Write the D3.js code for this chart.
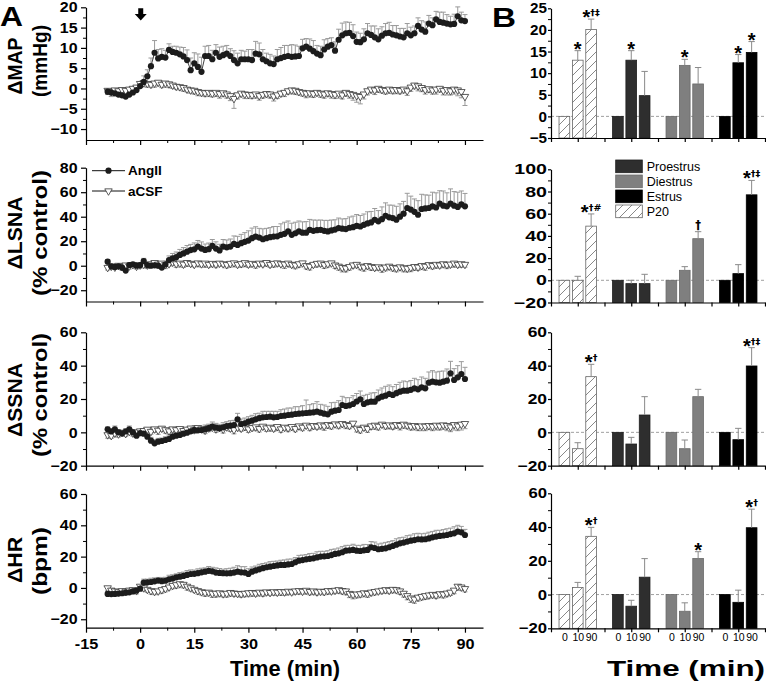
<!DOCTYPE html>
<html><head><meta charset="utf-8">
<script src="https://cdn.jsdelivr.net/npm/d3@7"></script>
<style>body{margin:0;background:#fff}svg{display:block}</style>
</head><body><svg id="c" width="766" height="682"></svg>
<script>
// ---------- DATA (panel A: time course, t = -9 .. 90 min) ----------
const minutes = d3.range(-9, 91);

const mapAng = [-0.8,-1.0,-1.2,-1.5,-1.7,-2.0,-1.5,-1.0,-0.4,0.6,
 1.6,3.0,5.5,8.8,7.4,7.8,7.6,9.5,9.0,8.8,
 8.4,7.9,7.0,4.5,6.2,5.3,4.1,8.0,8.0,7.2,
 8.8,7.8,8.2,8.6,8.0,7.0,6.2,7.2,7.2,7.2,
 7.0,8.6,8.4,7.2,6.7,6.2,6.0,7.2,7.5,7.8,
 8.0,7.8,7.9,8.0,9.9,10.3,9.8,9.2,8.6,8.2,
 9.6,10.3,10.7,9.3,12.0,13.1,13.6,13.7,12.9,11.5,
 11.4,12.1,13.6,13.2,12.6,12.1,13.0,13.6,13.7,13.3,
 13.1,12.8,12.6,13.6,13.1,13.6,15.4,14.5,14.0,16.0,
 15.6,17.0,16.4,16.2,16.0,15.8,15.9,17.8,16.8,16.6];
const mapAngErr = [0.8,0.9,0.7,1.0,0.8,0.9,0.7,0.8,0.9,1.0,
 1.5,1.6,2.0,3.0,2.2,2.0,1.8,1.5,1.4,1.6,
 1.8,2.2,2.5,3.0,2.6,3.2,3.6,2.4,2.6,2.2,
 2.0,2.4,2.2,2.0,1.8,2.3,2.5,2.2,2.0,2.4,
 2.6,3.0,2.8,2.4,2.0,2.2,2.0,2.4,2.6,2.8,
 2.6,3.0,2.8,2.4,2.2,2.0,2.4,2.6,2.0,2.2,
 2.4,2.0,1.8,2.2,2.6,3.0,2.8,2.6,2.8,2.4,
 2.2,2.6,2.4,2.2,2.8,2.6,2.2,2.4,2.6,2.2,
 2.4,2.0,2.2,2.4,2.0,1.8,2.0,2.2,2.4,2.0,
 1.8,2.0,2.4,2.6,2.2,2.0,2.4,2.3,2.0,1.6];
const mapCsf = [-0.5,-0.8,-0.4,-0.6,-0.3,-0.5,-0.2,0.0,0.3,1.2,
 1.4,1.2,1.0,1.3,1.5,1.0,1.3,1.1,0.8,0.5,
 0.4,0.2,-0.2,-0.4,-0.5,-0.8,-1.0,-1.1,-1.0,-1.2,
 -1.0,-1.3,-1.1,-1.4,-1.8,-2.5,-1.6,-1.2,-1.4,-1.5,
 -1.6,-1.4,-1.8,-1.5,-1.3,-1.4,-1.9,-1.6,-1.2,-1.0,
 -0.6,-0.4,-0.5,-0.8,-1.0,-1.2,-1.1,-1.3,-1.0,-1.2,
 -1.4,-1.1,-1.3,-1.5,-1.2,-1.6,-1.0,-1.3,-1.5,-1.8,
 -2.0,-1.4,-0.6,-0.2,-0.4,0.0,-0.3,-0.5,-0.2,-0.4,
 -0.3,-0.5,-0.2,-0.6,0.3,0.8,0.6,0.2,-0.3,-0.1,
 -0.4,-0.2,0.0,-0.5,-0.3,-0.6,-0.2,-0.4,-0.8,-2.0];
const mapCsfErr = [1.0,1.2,0.9,1.1,0.8,1.0,0.7,0.8,0.9,0.8,
 1.0,0.9,0.8,1.0,0.9,0.8,1.0,0.9,0.8,0.7,
 0.8,0.9,0.7,0.8,0.9,1.0,0.8,0.9,1.0,0.9,
 1.0,1.1,0.9,1.0,1.2,2.4,1.0,0.9,1.1,1.0,
 0.9,1.0,1.1,0.9,0.8,1.0,1.2,0.9,0.8,1.0,
 0.8,0.9,1.0,0.8,0.9,1.1,1.0,0.9,0.8,1.0,
 1.0,0.9,1.1,1.0,1.2,1.0,0.9,1.1,1.4,1.6,
 1.8,1.2,1.0,0.9,1.1,1.0,0.8,0.9,1.0,0.9,
 1.0,0.8,0.9,1.1,1.0,0.9,1.2,1.0,1.1,0.9,
 1.0,1.2,0.9,1.1,1.3,1.0,1.2,1.4,1.5,2.2];

const lsnaAng = [3.3,-0.5,-1.0,-0.5,-1.5,-4.0,0.5,1.2,0.0,0.5,
 3.8,0.5,0.0,0.3,0.0,-1.5,1.0,4.5,6.0,7.0,
 8.8,10.0,11.5,12.8,13.4,15.6,14.0,12.9,13.5,16.2,
 14.0,12.5,15.6,15.0,15.6,17.8,17.0,18.4,19.5,20.5,
 22.5,23.8,23.0,21.6,22.5,23.3,23.8,24.0,25.2,26.0,
 28.0,25.2,26.5,28.0,27.0,27.0,29.3,28.5,29.0,29.3,
 28.5,28.0,28.8,29.5,30.7,30.2,29.9,31.0,31.5,32.6,
 32.0,33.4,34.5,35.3,37.5,36.2,38.0,40.8,39.5,38.9,
 37.5,40.0,42.5,47.1,45.8,44.0,41.6,46.3,46.8,47.1,
 48.5,47.5,50.7,49.0,48.5,50.7,49.0,48.0,50.0,48.5];
const lsnaAngErr = [1.5,2.0,1.8,2.2,1.6,2.0,1.8,1.5,2.0,1.8,
 2.2,2.0,2.5,2.4,2.8,3.0,2.6,3.5,4.0,4.2,
 4.5,4.8,5.0,4.6,5.2,5.0,5.4,4.8,5.0,5.2,
 5.5,5.0,5.8,6.0,6.2,6.5,7.0,7.2,7.5,8.0,
 8.2,8.0,7.5,8.5,8.0,7.8,8.2,8.0,9.0,9.5,
 8.5,9.5,9.0,8.5,8.8,9.0,8.5,8.8,8.2,8.0,
 8.5,9.0,8.5,8.0,8.2,8.0,8.5,8.8,9.0,9.2,
 9.0,8.8,9.5,9.0,9.2,8.8,10.0,10.5,10.0,10.5,
 11.0,10.5,10.0,12.0,11.0,10.5,11.5,12.0,11.0,10.5,
 11.5,12.0,10.5,12.0,11.0,12.0,11.5,12.0,11.0,10.5];
const lsnaCsf = [-1.5,-0.5,-1.2,0.2,-0.8,0.5,-0.3,0.8,-0.5,0.5,
 1.0,0.5,1.5,2.5,1.2,2.0,0.8,1.5,2.8,1.5,
 2.0,1.2,2.5,1.8,1.0,2.2,1.5,2.0,1.0,1.8,
 1.2,2.0,1.5,0.8,1.8,2.2,1.0,1.6,2.4,1.2,
 1.8,1.0,2.0,1.4,2.5,1.0,1.8,2.2,1.5,1.2,
 2.0,1.0,0.5,1.5,2.2,0.0,-0.5,1.0,1.8,2.0,
 0.8,1.5,2.2,0.5,-0.5,-1.5,-2.0,-0.8,0.5,1.0,
 -0.5,-1.2,0.0,-0.8,-1.5,-1.0,-2.0,-1.2,-0.5,-1.5,
 -2.0,-1.0,-1.8,-2.2,-1.5,-0.8,-1.2,0.0,-0.5,0.8,
 0.0,1.0,0.5,1.5,0.8,1.2,2.0,1.0,1.5,1.0];
const lsnaCsfErr = [2.0,2.5,1.8,2.2,3.0,2.0,2.4,1.8,2.2,2.6,
 2.0,2.8,2.4,3.0,2.2,2.6,3.2,2.0,2.4,2.8,
 2.2,2.6,3.0,2.4,2.0,2.8,2.6,3.2,2.4,2.2,
 2.8,2.4,2.0,2.6,3.0,2.4,2.2,2.8,3.2,2.6,
 2.4,3.0,2.6,2.2,2.8,2.4,3.0,2.6,2.2,3.4,
 2.6,2.4,3.0,2.8,2.2,2.6,3.0,2.4,2.8,2.6,
 3.0,2.6,2.2,2.8,3.2,3.6,3.0,2.8,2.4,2.6,
 2.8,3.2,2.6,3.0,2.4,2.8,3.4,3.0,2.6,2.8,
 3.0,2.6,3.2,2.8,3.4,3.0,2.6,2.8,3.2,2.4,
 2.6,3.0,2.4,2.8,3.2,2.6,3.0,2.4,2.8,2.2];

const ssnaAng = [1.8,0.5,1.8,0.0,-0.6,0.5,1.8,0.0,-2.0,-0.5,
 -0.8,-2.6,-5.0,-6.6,-5.6,-5.2,-4.6,-4.0,-2.6,-2.0,
 -1.6,-0.8,-0.2,0.6,1.4,1.2,1.4,1.8,2.5,3.4,
 2.8,2.4,3.0,3.8,4.0,4.4,7.8,5.0,5.4,6.4,
 7.0,7.8,8.5,9.0,9.2,9.4,9.0,9.2,9.8,10.0,
 10.4,10.6,11.0,11.2,11.4,11.6,11.8,12.0,12.4,11.8,
 11.2,10.8,12.4,13.0,13.4,16.4,15.8,16.2,17.0,18.5,
 19.8,17.0,18.0,18.4,18.4,20.4,21.4,22.0,23.0,22.4,
 23.5,24.4,25.0,25.0,25.5,26.4,25.8,27.0,26.4,29.8,
 30.4,30.0,29.8,30.4,31.0,35.4,31.4,33.0,35.0,32.0];
const ssnaAngErr = [1.5,1.8,2.0,1.6,1.4,1.8,2.0,1.6,1.5,1.8,
 1.6,1.8,2.0,2.2,2.0,1.8,2.0,1.8,2.2,2.0,
 2.2,2.0,2.4,2.2,2.6,2.4,2.2,2.6,2.4,2.8,
 2.6,2.4,2.8,2.6,3.0,2.8,3.6,3.0,3.2,3.0,
 3.2,3.4,3.0,3.6,3.4,3.2,3.6,3.4,3.8,4.0,
 4.2,4.0,4.4,4.2,4.6,7.8,4.8,5.2,6.0,5.0,
 5.2,4.8,5.4,5.0,5.6,5.2,5.0,4.6,5.0,4.8,
 5.0,5.2,4.8,5.2,5.4,5.0,5.2,5.6,5.4,5.0,
 5.2,5.6,5.8,5.4,5.6,6.0,5.8,6.2,6.0,6.4,
 6.6,6.2,6.8,6.4,7.0,7.2,6.8,7.0,7.4,7.0];
const ssnaCsf = [-1.5,-2.0,-0.5,-1.0,0.0,-0.8,0.5,-0.5,0.2,0.8,
 1.0,1.8,0.5,2.0,1.2,2.4,1.5,0.8,2.0,1.5,
 2.2,1.0,1.8,2.5,1.5,2.8,2.0,1.2,2.6,3.0,
 2.0,2.8,1.8,3.2,2.5,1.5,3.0,2.4,3.4,2.0,
 2.8,3.2,2.2,3.6,2.6,3.0,2.4,3.4,2.0,3.0,
 2.6,3.4,2.2,3.8,3.0,4.2,3.2,4.0,3.6,4.4,
 3.8,4.6,4.0,5.0,4.4,5.2,4.6,4.0,5.4,2.4,
 1.6,3.0,2.2,3.8,4.2,3.6,4.8,4.0,4.4,3.8,
 4.6,4.0,4.8,4.2,3.6,4.0,3.4,3.8,3.6,4.0,
 3.6,4.2,3.8,4.4,4.0,3.2,4.6,3.8,4.8,5.2];
const ssnaCsfErr = [2.0,1.6,2.2,1.8,2.4,1.6,2.0,1.8,2.2,1.6,
 1.8,2.2,1.6,2.0,2.4,1.8,2.0,2.2,1.6,2.0,
 2.2,1.8,2.0,1.6,2.2,2.4,1.8,2.0,2.2,1.8,
 2.0,1.6,2.2,1.8,2.0,2.4,2.0,1.8,2.2,2.0,
 1.8,2.2,2.0,1.6,2.0,2.2,1.8,2.4,2.0,1.8,
 2.2,2.0,1.8,2.2,2.0,1.6,2.2,2.0,1.8,2.4,
 2.6,2.2,2.0,1.8,2.2,2.0,2.4,1.8,2.0,2.2,
 2.0,1.8,2.2,2.0,2.4,2.2,1.8,2.0,2.2,2.0,
 2.2,2.6,2.4,2.0,2.2,2.6,2.4,2.8,2.6,2.4,
 2.6,2.8,2.4,2.6,3.0,2.8,3.2,2.8,3.4,3.0];

const hrAng = [-3.8,-3.9,-3.8,-3.6,-3.4,-3.0,-2.8,-2.2,-1.7,-0.5,
 3.4,3.6,3.8,4.2,4.7,4.3,4.6,5.5,6.0,6.8,
 7.2,7.7,8.3,8.9,9.0,9.4,10.0,10.4,10.9,10.6,
 9.8,9.6,9.4,9.3,9.4,9.8,10.4,10.0,9.8,8.9,
 10.4,11.2,11.9,12.6,13.2,13.6,14.0,14.4,14.7,14.7,
 15.0,15.3,16.4,17.4,17.8,18.3,18.6,18.9,19.5,20.0,
 20.2,20.4,21.0,21.7,22.1,22.8,23.8,24.0,24.3,23.8,
 23.6,24.0,24.3,26.0,25.5,24.7,25.0,25.3,26.0,26.8,
 27.6,28.5,29.0,29.6,30.2,30.6,31.1,31.0,31.1,31.6,
 32.3,32.8,33.2,33.5,33.8,34.4,34.9,36.0,35.5,33.8];
const hrAngErr = [1.5,1.8,1.6,2.0,1.8,1.6,2.0,1.8,1.6,2.0,
 2.2,2.0,2.4,2.2,2.0,2.4,2.2,2.6,2.4,2.2,
 2.6,2.4,2.8,2.6,2.4,2.8,2.6,2.4,2.8,2.6,
 3.0,2.8,2.6,3.0,3.2,3.4,3.8,3.6,3.8,3.4,
 3.0,2.8,3.2,3.0,2.8,3.2,3.0,2.8,3.0,3.2,
 3.4,3.2,3.0,3.4,3.2,3.0,3.4,3.2,3.6,3.4,
 3.2,3.4,3.6,3.2,3.4,3.6,3.4,3.2,3.6,3.4,
 3.6,3.8,3.4,3.6,3.8,3.4,3.6,3.8,3.6,3.4,
 3.8,3.6,3.4,3.8,3.6,4.0,3.8,3.6,3.8,4.0,
 3.8,4.0,3.6,3.8,4.0,3.8,4.2,4.0,3.8,3.6];
const hrCsf = [0.0,-1.5,-2.0,-2.5,-1.8,-2.2,-1.5,-1.2,-1.8,1.0,
 0.0,-1.0,-1.8,-2.3,-2.0,-1.2,-0.5,0.5,1.5,2.0,
 2.6,2.2,1.0,0.0,-1.0,-1.8,-2.5,-3.0,-2.8,-3.5,
 -3.5,-3.2,-3.8,-3.5,-3.0,-3.4,-3.6,-3.8,-3.5,-3.2,
 -3.0,-3.4,-2.8,-3.2,-2.6,-3.0,-2.5,-2.8,-2.4,-2.6,
 -2.2,-2.6,-2.0,-1.8,-2.2,-1.6,-2.4,-2.0,-2.6,-2.2,
 -2.4,-1.8,-2.0,-1.6,-1.2,-1.8,-2.0,-3.6,-4.2,-4.0,
 -3.8,-3.2,-3.6,-2.8,-2.4,-2.0,-1.6,-1.2,-1.6,-1.0,
 -1.2,-2.0,-3.5,-5.0,-6.5,-7.2,-6.0,-5.5,-5.0,-4.6,
 -4.2,-4.6,-3.8,-4.0,-3.4,-2.8,-1.5,1.0,0.5,-0.5];
const hrCsfErr = [1.8,2.0,1.6,2.2,1.8,2.0,1.6,1.8,2.0,1.8,
 2.0,1.8,2.2,2.0,1.8,2.2,2.0,1.8,2.0,2.2,
 2.0,2.2,2.4,2.0,1.8,2.2,2.0,2.4,2.2,2.6,
 2.4,2.2,2.0,2.4,2.2,2.0,1.8,2.2,2.0,2.4,
 2.2,2.0,1.8,2.2,2.0,1.8,2.2,2.0,2.4,2.2,
 2.0,1.8,2.2,2.0,1.8,2.2,2.0,2.2,2.0,1.8,
 2.0,2.2,1.8,2.0,2.2,2.0,2.4,2.6,2.8,2.4,
 2.2,2.0,2.4,2.2,2.0,1.8,2.0,2.2,2.0,1.8,
 2.0,2.2,2.4,2.6,2.8,2.6,2.4,2.2,2.4,2.2,
 2.0,2.2,2.0,2.4,2.2,2.0,2.2,2.4,2.2,2.0];

// tick labels
const timeTicks = [-15,0,15,30,45,60,75,90];
const timeMinor = [-7.5,7.5,22.5,37.5,52.5,67.5,82.5];
const mapTicks = [-10,-5,0,5,10,15,20];
const mapMinor = [-7.5,-2.5,2.5,7.5,12.5,17.5];
const lsnaTicks = [-20,0,20,40,60,80];
const lsnaMinor = [-10,10,30,50,70];
const ssnaTicks = [-20,0,20,40,60];
const ssnaMinor = [-10,10,30,50];
const hrTicks = [-20,0,20,40,60];
const hrMinor = [-10,10,30,50];
const seriesNames = ["AngII","aCSF"];

// ---------- DATA (panel B: bars at 0, 10, 90 min) ----------
const groups = ["P20","Proestrus","Diestrus","Estrus"];
const legendOrder = ["Proestrus","Diestrus","Estrus","P20"];
const barTimes = ["0","10","90"];
const barMAP = [[0,13.0,20.1],[0,13.0,4.8],[0,11.8,7.5],[0,12.4,14.8]];
const barMAPErr = [[0,2.2,2.4],[0,2.2,5.6],[0,1.4,3.8],[0,1.9,2.5]];
const barLSNA = [[0,0,48.8],[0,-3,-3],[0,9,37.5],[0,6,77]];
const barLSNAErr = [[0,3.6,11],[0,3,8.4],[0,3.3,6.3],[0,8.1,13]];
const barSSNA = [[0,-9.8,33.4],[0,-7,10.4],[0,-9.8,21.4],[0,-4.4,39.8]];
const barSSNAErr = [[0,3.6,7.4],[0,4,11],[0,5.2,4.4],[0,6.8,11]];
const barHR = [[0,4.2,34.5],[0,-6.9,10.3],[0,-9.9,21.4],[0,-4.6,39.6]];
const barHRErr = [[0,3,5.3],[0,3.5,11],[0,5,4],[0,7.2,11]];
const sigMAP = [["","*","*†‡"],["","*",""],["","*",""],["","*","*"]];
const sigLSNA = [["","","*†#"],["","",""],["","","†"],["","","*†‡"]];
const sigSSNA = [["","","*†"],["","",""],["","",""],["","","*†‡"]];
const sigHR = [["","","*†"],["","",""],["","","*"],["","","*†"]];
const mapBTicks = [-5,0,5,10,15,20,25];
const mapBMinor = [-2.5,2.5,7.5,12.5,17.5,22.5];
const lsnaBTicks = [-20,0,20,40,60,80,100];
const lsnaBMinor = [-10,10,30,50,70,90];

// ---------- DRAWING ----------
const FONT = '"Liberation Sans", Arial, Helvetica, sans-serif';
const SYMFONT = '"DejaVu Sans", "Liberation Sans", sans-serif';
const svg = d3.select("#c");
const defs = svg.append("defs");
const pat = defs.append("pattern").attr("id","hatch").attr("patternUnits","userSpaceOnUse")
  .attr("width",9).attr("height",9);
pat.append("rect").attr("width",9).attr("height",9).attr("fill","#fff");
pat.append("path").attr("d","M-2.25,2.25L2.25,-2.25M0,9L9,0M6.75,11.25L11.25,6.75")
  .attr("stroke","#6a6a6a").attr("stroke-width",0.8);

const fills = {P20:"url(#hatch)", Proestrus:"#2e2e2e", Diestrus:"#7f7f7f", Estrus:"#000"};
const strokes = {P20:"#666", Proestrus:"#1e1e1e", Diestrus:"#6a6a6a", Estrus:"#000"};

const xL = d3.scaleLinear().domain([-15,95]).range([86,483]);
const xB = d3.scaleLinear().domain([0.5,4.5]).range([551,765]);

function styleAxis(a, fs){
  a.attr("font-family",FONT).attr("font-size",fs).attr("font-weight","bold");
  a.selectAll("path,line").attr("stroke","#000").attr("stroke-width",1.2);
  a.selectAll("text").attr("fill","#000");
}
function yAxis(g, y, x0, ticks, minor, sx, gap, tsize){
  const a = g.append("g").attr("transform",`translate(${x0},0)`)
    .call(d3.axisLeft(y).tickValues(ticks).tickSize(tsize).tickSizeOuter(0).tickPadding(2));
  styleAxis(a, 14.5);
  a.selectAll(".tick text").attr("x",-gap/sx).attr("transform",`scale(${sx},1)`);
  const m = g.append("g").attr("transform",`translate(${x0},0)`)
    .call(d3.axisLeft(y).tickValues(minor).tickSize(3).tickSizeOuter(0).tickFormat(()=>""));
  m.select(".domain").remove();
  m.selectAll("line").attr("stroke","#000").attr("stroke-width",1);
}

const leftPanels = [
 {ang:mapAng, angErr:mapAngErr, csf:mapCsf, csfErr:mapCsfErr, domain:[-12.7,20], range:[140,7.3],
  ticks:mapTicks, minor:mapMinor, title:["ΔMAP","(mmHg)"], tl:[57,72], ty:[66,61]},
 {ang:lsnaAng, angErr:lsnaAngErr, csf:lsnaCsf, csfErr:lsnaCsfErr, domain:[-29.2,80], range:[301.5,167.7],
  ticks:lsnaTicks, minor:lsnaMinor, title:["ΔLSNA","(% control)"], tl:[73,126], ty:[233,233]},
 {ang:ssnaAng, angErr:ssnaAngErr, csf:ssnaCsf, csfErr:ssnaCsfErr, domain:[-20,60], range:[465.7,332.3],
  ticks:ssnaTicks, minor:ssnaMinor, title:["ΔSSNA","(% control)"], tl:[74,124], ty:[400,395]},
 {ang:hrAng, angErr:hrAngErr, csf:hrCsf, csfErr:hrCsfErr, domain:[-25.4,60], range:[627.7,494],
  ticks:hrTicks, minor:hrMinor, title:["ΔHR","(bpm)"], tl:[46,68], ty:[560,561]}
];

const triSym = d3.symbol().type(d3.symbolTriangle).size(24);
const ERRC = "#9a9a9a";

leftPanels.forEach((p, pi) => {
  const g = svg.append("g");
  const y = d3.scaleLinear().domain(p.domain).range(p.range);
  const yb = p.range[0];
  const xa = g.append("g").attr("transform",`translate(0,${yb})`)
    .call(d3.axisBottom(xL).tickValues(timeTicks).tickSize(5).tickSizeOuter(0).tickPadding(6.5)
      .tickFormat(pi===3 ? (d=>d) : (()=>"")));
  styleAxis(xa, 14.5);
  xa.selectAll(".tick text").attr("transform","scale(1.12,1)");
  const xm = g.append("g").attr("transform",`translate(0,${yb})`)
    .call(d3.axisBottom(xL).tickValues(timeMinor).tickSize(3).tickSizeOuter(0).tickFormat(()=>""));
  xm.select(".domain").remove();
  xm.selectAll("line").attr("stroke","#000");
  yAxis(g, y, 86, p.ticks, p.minor, 1.1, 8.5, 5);

  p.title.forEach((t, i) => {
    g.append("text").attr("transform",`translate(${i===0?15:40},${p.ty[i]}) rotate(-90)`)
      .attr("text-anchor","middle").attr("dominant-baseline","central")
      .attr("font-family",FONT).attr("font-weight","bold").attr("font-size",20)
      .attr("textLength",p.tl[i]).attr("lengthAdjust","spacingAndGlyphs").text(t);
  });

  const angData = minutes.map((t,i)=>({t, v:p.ang[i], e:p.angErr[i]}));
  const csfData = minutes.map((t,i)=>({t, v:p.csf[i], e:p.csfErr[i]}));

  const eb = g.append("g").attr("stroke",ERRC).attr("stroke-width",1);
  angData.forEach(d=>{
    const x = xL(d.t), y0 = y(d.v), y1 = y(d.v + d.e);
    eb.append("line").attr("x1",x).attr("x2",x).attr("y1",y0).attr("y2",y1);
    eb.append("line").attr("x1",x-2.5).attr("x2",x+2.5).attr("y1",y1).attr("y2",y1);
  });
  csfData.forEach(d=>{
    const x = xL(d.t), y0 = y(d.v), y1 = y(d.v - d.e);
    eb.append("line").attr("x1",x).attr("x2",x).attr("y1",y0).attr("y2",y1);
    eb.append("line").attr("x1",x-2.5).attr("x2",x+2.5).attr("y1",y1).attr("y2",y1);
  });
  const line = d3.line().x(d=>xL(d.t)).y(d=>y(d.v));
  g.append("path").datum(csfData).attr("d",line).attr("fill","none").attr("stroke","#555").attr("stroke-width",0.7);
  g.append("path").datum(angData).attr("d",line).attr("fill","none").attr("stroke","#111").attr("stroke-width",0.8);
  g.append("g").selectAll("path").data(csfData).join("path")
    .attr("d",triSym).attr("transform",d=>`translate(${xL(d.t)},${y(d.v)}) rotate(180)`)
    .attr("fill","#fff").attr("stroke","#333").attr("stroke-width",0.8);
  g.append("g").selectAll("circle").data(angData).join("circle")
    .attr("cx",d=>xL(d.t)).attr("cy",d=>y(d.v)).attr("r",3.1).attr("fill","#1c1c1c");

  if (pi===1){
    const lg = g.append("g").attr("font-family",FONT).attr("font-weight","bold").attr("font-size",13.5);
    [[170.7,"AngII"],[191,"aCSF"]].forEach(([ly,name],k)=>{
      lg.append("line").attr("x1",92).attr("x2",125).attr("y1",ly).attr("y2",ly).attr("stroke","#111").attr("stroke-width",1);
      if(k===0) lg.append("circle").attr("cx",108.5).attr("cy",ly).attr("r",3.1).attr("fill","#1c1c1c");
      else lg.append("path").attr("d",triSym).attr("transform",`translate(108.5,${ly}) rotate(180)`)
        .attr("fill","#fff").attr("stroke","#333").attr("stroke-width",0.8);
      lg.append("text").attr("x",128).attr("y",ly).attr("dominant-baseline","central").attr("fill","#000").text(seriesNames[k]);
    });
  }
});

// arrow at t = 0
(function(){
  const cx = xL(0) + 0.6;
  svg.append("path").attr("d",`M${cx-2.5},8.3H${cx+2.5}V14H${cx+6}L${cx},20.5L${cx-6},14H${cx-2.5}Z`).attr("fill","#000");
})();

svg.append("text").attr("x",285).attr("y",676).attr("text-anchor","middle")
  .attr("font-family",FONT).attr("font-weight","bold").attr("font-size",22).attr("fill","#000")
  .attr("textLength",110).attr("lengthAdjust","spacingAndGlyphs").text("Time (min)");

// ---------- panel B ----------
const rightPanels = [
 {vals:barMAP, errs:barMAPErr, sig:sigMAP, domain:[-5,25], range:[138,8.3], ticks:mapBTicks, minor:mapBMinor, sx:1.05},
 {vals:barLSNA, errs:barLSNAErr, sig:sigLSNA, domain:[-20,100], range:[302.5,169.3], ticks:lsnaBTicks, minor:lsnaBMinor, sx:1.35},
 {vals:barSSNA, errs:barSSNAErr, sig:sigSSNA, domain:[-20,60], range:[465.7,332.3], ticks:ssnaTicks, minor:ssnaMinor, sx:1.2},
 {vals:barHR, errs:barHRErr, sig:sigHR, domain:[-20,60], range:[628.3,493.3], ticks:hrTicks, minor:hrMinor, sx:1.15}
];
const bw = xB(0.7) - xB(0.5);

rightPanels.forEach((p, pi) => {
  const g = svg.append("g");
  const y = d3.scaleLinear().domain(p.domain).range(p.range);
  const yb = p.range[0];
  g.append("line").attr("x1",xB(0.5)).attr("x2",766).attr("y1",y(0)).attr("y2",y(0))
    .attr("stroke","#777").attr("stroke-width",0.7).attr("stroke-dasharray","3,2");
  groups.forEach((gn, gi) => {
    p.vals[gi].forEach((v, bi) => {
      const c = gi + 1 + (bi - 1) * 0.25;
      const x0 = xB(c) - bw/2;
      g.append("rect").attr("x",x0).attr("width",bw)
        .attr("y",y(v)).attr("height",yb - y(v))
        .attr("fill",fills[gn]).attr("stroke",strokes[gn]).attr("stroke-width",0.8);
      const e = p.errs[gi][bi];
      if (e > 0){
        const xc = xB(c), y1 = y(v + e);
        g.append("line").attr("x1",xc).attr("x2",xc).attr("y1",y(v)).attr("y2",y1).attr("stroke","#8a8a8a").attr("stroke-width",1);
        g.append("line").attr("x1",xc-3.2).attr("x2",xc+3.2).attr("y1",y1).attr("y2",y1).attr("stroke","#8a8a8a").attr("stroke-width",1);
      }
      const s = p.sig[gi][bi];
      if (s){
        const top = y(v + e);
        const t = g.append("text").attr("x",xB(c)).attr("text-anchor","middle")
          .attr("font-family",FONT).attr("font-weight","bold").attr("fill","#000");
        if (s[0]==="*"){
          t.attr("y",top + 5);
          t.append("tspan").attr("font-size",20).text("*");
          if (s.length>1) t.append("tspan").attr("font-family",SYMFONT).attr("font-size",9.5).attr("dy",-8).attr("fill","#000").text(s.slice(1));
        } else {
          t.attr("y",top - 3).attr("font-family",SYMFONT).attr("font-size",11.5).text(s);
        }
      }
      if (pi===3){
        g.append("text").attr("x",xB(c)+0.5).attr("y",641)
          .attr("text-anchor","middle").attr("font-family",FONT).attr("font-size",10.5)
          .attr("fill","#000").text(barTimes[bi]);
      }
    });
  });
  const xa = g.append("g").attr("transform",`translate(0,${yb})`)
    .call(d3.axisBottom(xB).tickValues([0.5,1,1.5,2,2.5,3,3.5,4,4.5]).tickSize(4).tickSizeOuter(0).tickFormat(()=>""));
  styleAxis(xa, 14);
  yAxis(g, y, xB(0.5), p.ticks, p.minor, p.sx, 4, 3);
});

const lgB = svg.append("g").attr("font-family",FONT).attr("font-size",12.5);
legendOrder.forEach((n, i) => {
  const ly = 160 + i * 15;
  lgB.append("rect").attr("x",615.7).attr("y",ly).attr("width",26.6).attr("height",12.7)
    .attr("fill",fills[n]).attr("stroke",strokes[n]).attr("stroke-width",0.8);
  lgB.append("text").attr("x",646.7).attr("y",ly + 6.5).attr("dominant-baseline","central").attr("fill","#000").text(n);
});

svg.append("text").attr("x",686).attr("y",676).attr("text-anchor","middle")
  .attr("font-family",FONT).attr("font-weight","bold").attr("font-size",22).attr("fill","#000")
  .attr("textLength",158).attr("lengthAdjust","spacingAndGlyphs").text("Time (min)");

svg.append("text").attr("x",0).attr("y",26).attr("font-family",FONT).attr("font-weight","bold").attr("font-size",27).attr("fill","#000")
  .attr("textLength",23).attr("lengthAdjust","spacingAndGlyphs").text("A");
svg.append("text").attr("x",492).attr("y",26.5).attr("font-family",FONT).attr("font-weight","bold").attr("font-size",27).attr("fill","#000")
  .attr("textLength",24).attr("lengthAdjust","spacingAndGlyphs").text("B");
</script></body></html>
